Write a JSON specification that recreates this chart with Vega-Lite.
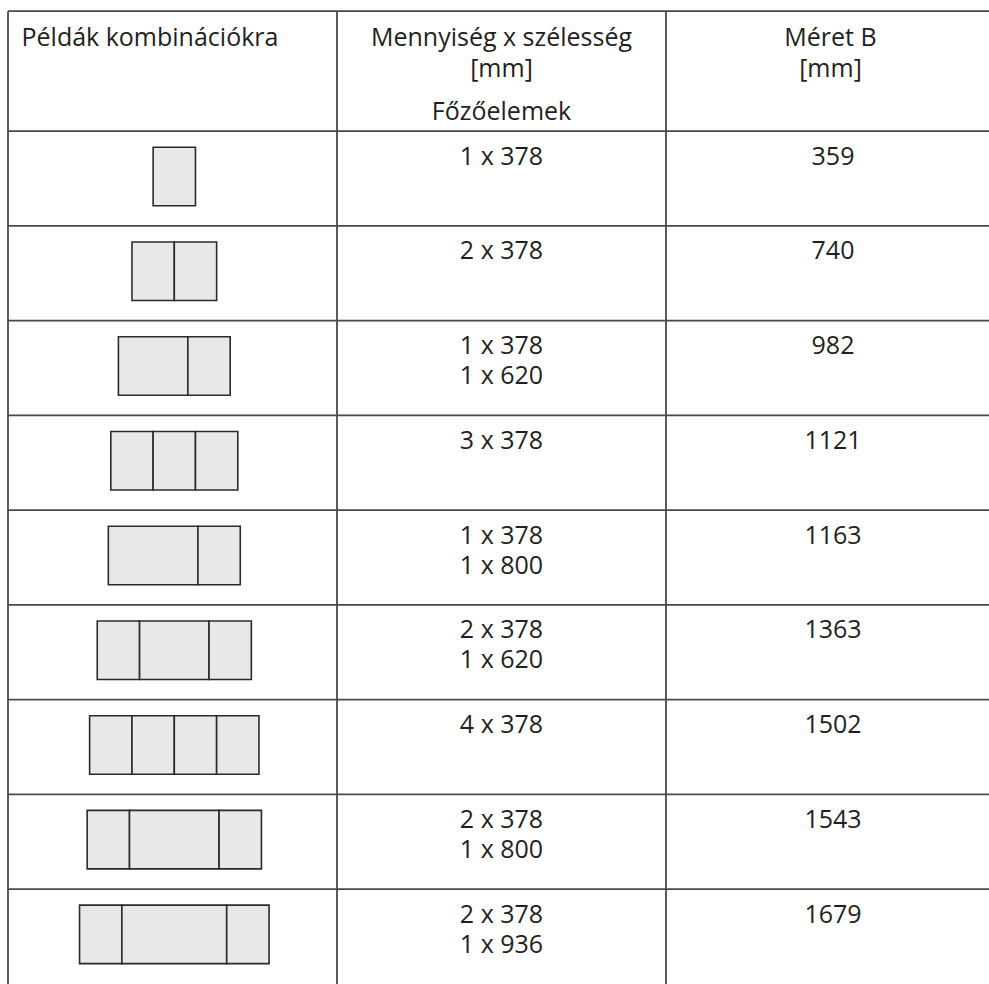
{
  "$schema": "https://vega.github.io/schema/vega-lite/v6.json",
  "width": 989,
  "height": 984,
  "autosize": {"type": "fit", "contains": "padding"},
  "padding": 0,
  "background": "white",
  "config": {
    "view": {"stroke": null},
    "text": {"font": "Open Sans", "fontSize": 25, "color": "#231f20"}
  },
  "datasets": {
    "header": [
      {"col": 0, "line": "main", "label": "Példák kombinációkra"},
      {"col": 1, "line": "main", "label": "Mennyiség x szélesség\n[mm]"},
      {"col": 2, "line": "main", "label": "Méret B\n[mm]"},
      {"col": 1, "line": "sub", "label": "Főzőelemek"}
    ],
    "rows": [
      {"row": 1, "qty": "1 x 378", "b": 359},
      {"row": 2, "qty": "2 x 378", "b": 740},
      {"row": 3, "qty": "1 x 378\n1 x 620", "b": 982},
      {"row": 4, "qty": "3 x 378", "b": 1121},
      {"row": 5, "qty": "1 x 378\n1 x 800", "b": 1163},
      {"row": 6, "qty": "2 x 378\n1 x 620", "b": 1363},
      {"row": 7, "qty": "4 x 378", "b": 1502},
      {"row": 8, "qty": "2 x 378\n1 x 800", "b": 1543},
      {"row": 9, "qty": "2 x 378\n1 x 936", "b": 1679}
    ],
    "pieces": [
      {"row": 1, "pos": 1, "mm": 378},
      {"row": 2, "pos": 1, "mm": 378},
      {"row": 2, "pos": 2, "mm": 378},
      {"row": 3, "pos": 1, "mm": 620},
      {"row": 3, "pos": 2, "mm": 378},
      {"row": 4, "pos": 1, "mm": 378},
      {"row": 4, "pos": 2, "mm": 378},
      {"row": 4, "pos": 3, "mm": 378},
      {"row": 5, "pos": 1, "mm": 800},
      {"row": 5, "pos": 2, "mm": 378},
      {"row": 6, "pos": 1, "mm": 378},
      {"row": 6, "pos": 2, "mm": 620},
      {"row": 6, "pos": 3, "mm": 378},
      {"row": 7, "pos": 1, "mm": 378},
      {"row": 7, "pos": 2, "mm": 378},
      {"row": 7, "pos": 3, "mm": 378},
      {"row": 7, "pos": 4, "mm": 378},
      {"row": 8, "pos": 1, "mm": 378},
      {"row": 8, "pos": 2, "mm": 800},
      {"row": 8, "pos": 3, "mm": 378},
      {"row": 9, "pos": 1, "mm": 378},
      {"row": 9, "pos": 2, "mm": 936},
      {"row": 9, "pos": 3, "mm": 378}
    ]
  },
  "layer": [
    {
      "layer": [
        {
          "data": {"name": "rows"},
          "mark": {"type": "rule", "stroke": "#4a4a4a", "strokeWidth": 1.8, "yOffset": -47.85, "xOffset": -164.5, "clip": true},
          "encoding": {
            "y": {"field": "row", "type": "quantitative", "scale": {"domain": [-0.8375, 9.4446], "nice": false, "zero": false, "reverse": true}, "axis": null},
            "x": {"datum": 0, "type": "quantitative", "scale": {"domain": [-0.5243, 2.4818], "nice": false, "zero": false}, "axis": null},
            "x2": {"datum": 3}
          }
        },
        {
          "data": {"name": "header"},
          "transform": [{"filter": "datum.col === 0"}],
          "mark": {"type": "rule", "stroke": "#4a4a4a", "strokeWidth": 1.8, "yOffset": -73.15, "xOffset": -164.5, "clip": true},
          "encoding": {
            "y": {"datum": 0, "type": "quantitative", "scale": {"domain": [-0.8375, 9.4446], "nice": false, "zero": false, "reverse": true}, "axis": null},
            "x": {"datum": 0, "type": "quantitative", "scale": {"domain": [-0.5243, 2.4818], "nice": false, "zero": false}, "axis": null},
            "x2": {"datum": 3}
          }
        },
        {
          "data": {"name": "header"},
          "transform": [{"filter": "datum.line === 'main'"}],
          "mark": {"type": "rule", "stroke": "#4a4a4a", "strokeWidth": 1.8, "yOffset": -73.15, "xOffset": -164.5, "clip": true},
          "encoding": {
            "x": {"field": "col", "type": "quantitative", "scale": {"domain": [-0.5243, 2.4818], "nice": false, "zero": false}, "axis": null},
            "y": {"datum": 0, "type": "quantitative", "scale": {"domain": [-0.8375, 9.4446], "nice": false, "zero": false, "reverse": true}, "axis": null},
            "y2": {"datum": 10.5}
          }
        },
        {
          "data": {"name": "header"},
          "transform": [{"filter": "datum.col === 0 && datum.line === 'main'"}],
          "mark": {"type": "text", "align": "left", "baseline": "alphabetic", "dx": -151, "dy": -38.65},
          "encoding": {
            "x": {"field": "col", "type": "quantitative", "scale": {"domain": [-0.5243, 2.4818], "nice": false, "zero": false}, "axis": null},
            "y": {"datum": 0, "type": "quantitative", "scale": {"domain": [-0.8375, 9.4446], "nice": false, "zero": false, "reverse": true}, "axis": null},
            "text": {"field": "label"}
          }
        },
        {
          "data": {"name": "header"},
          "transform": [{"filter": "datum.col > 0 && datum.line === 'main'"}],
          "mark": {"type": "text", "align": "center", "baseline": "alphabetic", "dy": -38.65, "lineBreak": "\n", "lineHeight": 31},
          "encoding": {
            "x": {"field": "col", "type": "quantitative", "scale": {"domain": [-0.5243, 2.4818], "nice": false, "zero": false}, "axis": null},
            "y": {"datum": 0, "type": "quantitative", "scale": {"domain": [-0.8375, 9.4446], "nice": false, "zero": false, "reverse": true}, "axis": null},
            "text": {"field": "label"}
          }
        },
        {
          "data": {"name": "header"},
          "transform": [{"filter": "datum.line === 'sub'"}],
          "mark": {"type": "text", "align": "center", "baseline": "alphabetic", "dy": 35.85},
          "encoding": {
            "x": {"field": "col", "type": "quantitative", "scale": {"domain": [-0.5243, 2.4818], "nice": false, "zero": false}, "axis": null},
            "y": {"datum": 0, "type": "quantitative", "scale": {"domain": [-0.8375, 9.4446], "nice": false, "zero": false, "reverse": true}, "axis": null},
            "text": {"field": "label"}
          }
        },
        {
          "data": {"name": "rows"},
          "mark": {"type": "text", "align": "center", "baseline": "alphabetic", "dy": -14.35, "lineBreak": "\n", "lineHeight": 30},
          "encoding": {
            "x": {"datum": 1, "type": "quantitative", "scale": {"domain": [-0.5243, 2.4818], "nice": false, "zero": false}, "axis": null},
            "y": {"field": "row", "type": "quantitative", "scale": {"domain": [-0.8375, 9.4446], "nice": false, "zero": false, "reverse": true}, "axis": null},
            "text": {"field": "qty"}
          }
        },
        {
          "data": {"name": "rows"},
          "mark": {"type": "text", "align": "center", "baseline": "alphabetic", "dx": 2.5, "dy": -14.35},
          "encoding": {
            "x": {"datum": 2, "type": "quantitative", "scale": {"domain": [-0.5243, 2.4818], "nice": false, "zero": false}, "axis": null},
            "y": {"field": "row", "type": "quantitative", "scale": {"domain": [-0.8375, 9.4446], "nice": false, "zero": false, "reverse": true}, "axis": null},
            "text": {"field": "b", "type": "quantitative", "format": "d"}
          }
        }
      ]
    },
    {
      "data": {"name": "pieces"},
      "mark": {"type": "bar", "orient": "horizontal", "height": 58.5, "yOffset": -2.5, "fill": "#e7e8e9", "stroke": "#2b2b2b", "strokeWidth": 1.6},
      "encoding": {
        "x": {"field": "mm", "type": "quantitative", "stack": "center", "scale": {"domain": [-710.25, 8120.1], "nice": false, "zero": false}, "axis": null},
        "y": {"field": "row", "type": "quantitative", "scale": {"domain": [-0.8375, 9.4446], "nice": false, "zero": false, "reverse": true}, "axis": null},
        "detail": {"field": "pos", "type": "nominal"},
        "order": {"field": "pos", "type": "quantitative"}
      }
    }
  ],
  "resolve": {"scale": {"x": "independent"}}
}
